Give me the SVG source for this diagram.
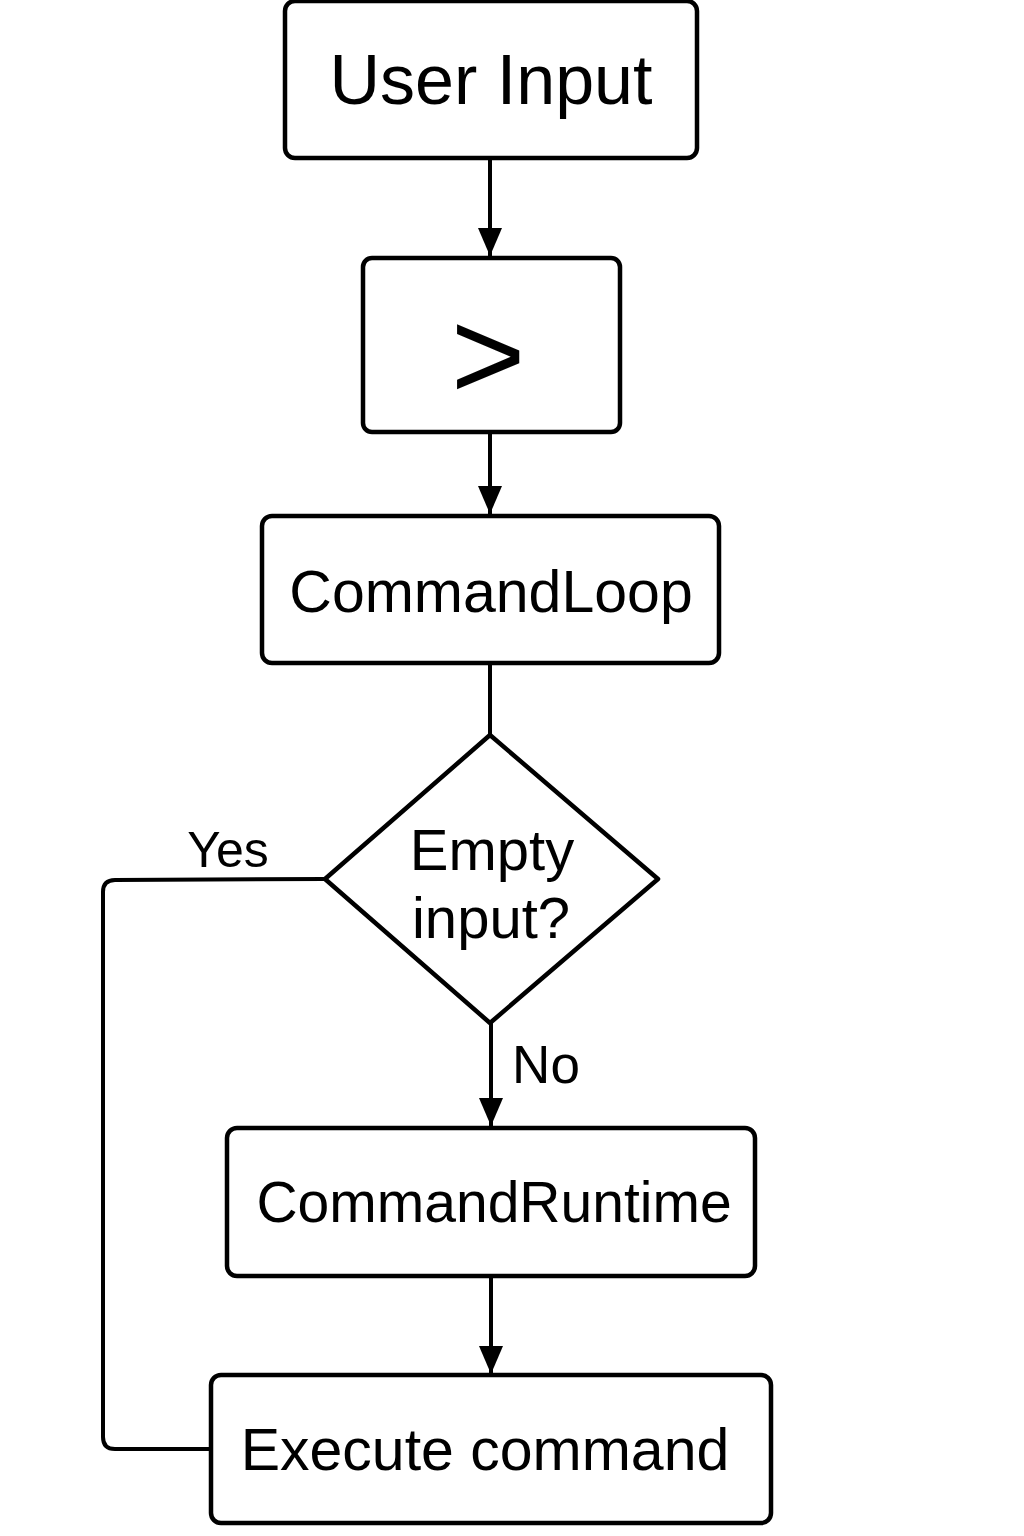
<svg xmlns="http://www.w3.org/2000/svg" width="1024" height="1536" viewBox="0 0 1024 1536">
<style>
.box{fill:#fff;stroke:#000;stroke-width:4.5}
.t{font-family:"Liberation Sans",Arial,sans-serif;fill:#000;text-anchor:middle}
.c{fill:none;stroke:#000;stroke-width:4}
</style>
<defs>
<marker id="a" viewBox="0 0 28 24" refX="28" refY="12" markerWidth="28" markerHeight="24" orient="auto" markerUnits="userSpaceOnUse">
<path d="M0,0 L28,12 L0,24 Z" fill="#000"/>
</marker>
</defs>
<rect width="1024" height="1536" fill="#fff"/>
<g id="connectors">
<line class="c" x1="490" y1="158" x2="490" y2="256" marker-end="url(#a)"/>
<line class="c" x1="490" y1="432" x2="490" y2="514" marker-end="url(#a)"/>
<line class="c" x1="490" y1="663" x2="490" y2="736"/>
<line class="c" x1="491" y1="1023" x2="491" y2="1126" marker-end="url(#a)"/>
<line class="c" x1="491" y1="1276" x2="491" y2="1374" marker-end="url(#a)"/>
<path class="c" d="M325,879 L115,880 Q103,880 103,892 L103,1437 Q103,1449 115,1449 L211,1449"/>
<text class="t" x="228" y="867" font-size="50">Yes</text>
<text class="t" x="546" y="1083" font-size="53">No</text>
</g>
<g id="user-input">
<rect class="box" x="285" y="1" width="412" height="157" rx="10"/>
<text class="t" x="491" y="104" font-size="70">User Input</text>
</g>
<g id="prompt">
<rect class="box" x="363" y="258" width="257" height="174" rx="9"/>
<text class="t" x="488" y="399" font-size="128">&gt;</text>
</g>
<g id="command-loop">
<rect class="box" x="262" y="516" width="457" height="147" rx="10"/>
<text class="t" x="491" y="612" font-size="59">CommandLoop</text>
</g>
<g id="empty-input">
<polygon class="box" points="490,735 658,879 490,1023 325,879" stroke-linejoin="round"/>
<text class="t" x="492" y="870" font-size="58">Empty</text>
<text class="t" x="491" y="938" font-size="58">input?</text>
</g>
<g id="command-runtime">
<rect class="box" x="227" y="1128" width="528" height="148" rx="10"/>
<text class="t" x="494" y="1222" font-size="57">CommandRuntime</text>
</g>
<g id="execute-command">
<rect class="box" x="211" y="1375" width="560" height="148" rx="10"/>
<text class="t" x="485" y="1470" font-size="59">Execute command</text>
</g>
</svg>
